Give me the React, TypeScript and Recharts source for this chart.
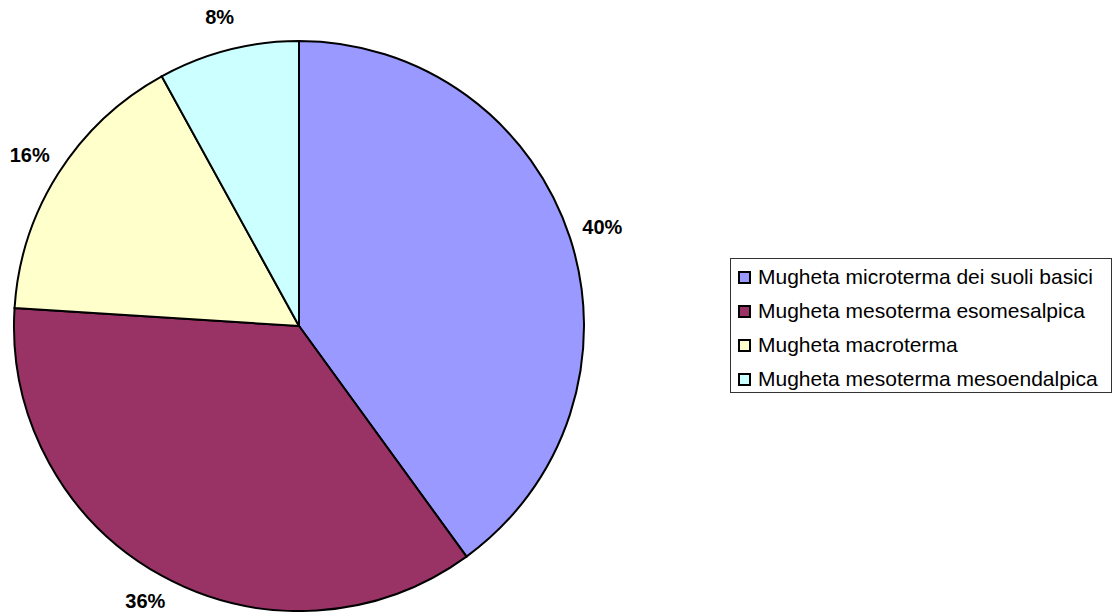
import React from "react";
import { PieChart, Pie, Cell, Legend } from "recharts";

const categories = [
  "Mugheta microterma dei suoli basici",
  "Mugheta mesoterma esomesalpica",
  "Mugheta macroterma",
  "Mugheta mesoterma mesoendalpica",
];
const values = [40, 36, 16, 8];
const colors = ["#9999FF", "#993366", "#FFFFCC", "#CCFFFF"];

const data = categories.map((name, i) => ({ name, value: values[i] }));

const RAD = Math.PI / 180;
const FONT = "'Liberation Sans', Arial, sans-serif";

const renderLabel = (props: any) => {
  const { cx, cy, midAngle, outerRadius, percent } = props;
  const r = outerRadius + 34;
  const x = cx + r * Math.cos(-midAngle * RAD);
  const y = cy + r * Math.sin(-midAngle * RAD);
  return (
    <text
      x={x}
      y={Math.min(y, 601)}
      textAnchor="middle"
      dominantBaseline="central"
      fontFamily={FONT}
      fontWeight="bold"
      fontSize={20}
      fill="#000"
    >
      {`${Math.round(percent * 100)}%`}
    </text>
  );
};

const renderLegend = () => (
  <div
    style={{
      border: "1px solid #333",
      padding: "1px 0 0 7px",
      height: 135,
      fontFamily: FONT,
      fontSize: 21,
      color: "#000",
      background: "#fff",
      boxSizing: "border-box",
    }}
  >
    {data.map((d, i) => (
      <div
        key={d.name}
        style={{ display: "flex", alignItems: "center", height: 34, whiteSpace: "nowrap" }}
      >
        <span
          style={{
            display: "inline-block",
            width: 9,
            height: 9,
            background: colors[i],
            border: "2px solid #000",
            marginRight: 7,
            flexShrink: 0,
          }}
        />
        <span>{d.name}</span>
      </div>
    ))}
  </div>
);

export default function App() {
  return (
    <div
      style={{
        position: "absolute",
        left: 0,
        top: 0,
        width: 1113,
        height: 612,
        background: "#fff",
      }}
    >
      <PieChart width={1113} height={612} margin={{ top: 0, right: 0, bottom: 0, left: 0 }}>
        <Pie
          data={data}
          dataKey="value"
          nameKey="name"
          cx={299}
          cy={326}
          outerRadius={285}
          startAngle={90}
          endAngle={-270}
          stroke="#000"
          strokeWidth={2}
          label={renderLabel}
          labelLine={false}
          isAnimationActive={false}
        >
          {data.map((d, i) => (
            <Cell key={d.name} fill={colors[i]} />
          ))}
        </Pie>
        <Legend
          content={renderLegend}
          wrapperStyle={{ left: 730, top: 258, width: 382, bottom: "auto", right: "auto" }}
        />
      </PieChart>
    </div>
  );
}
